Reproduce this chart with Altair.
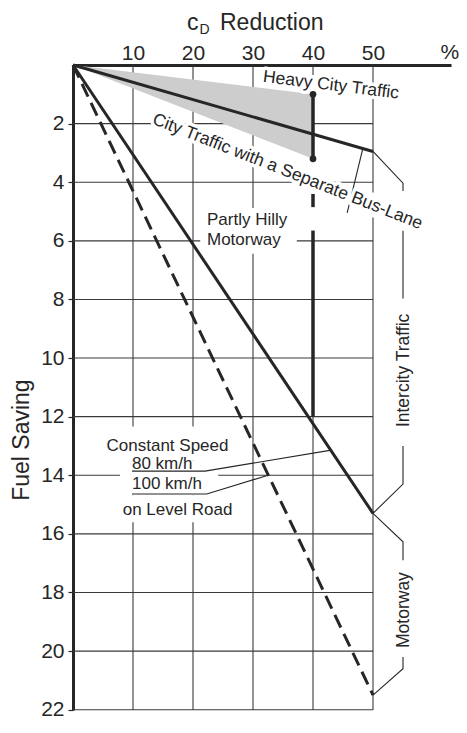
import altair as alt
import pandas as pd

FONT = "Liberation Sans"
INK = "#262626"
GRID = "#3a3a3a"
SHADE = "#cdcdcd"

# ---------------- data ----------------
CD_TICKS = [10, 20, 30, 40, 50]
FUEL_TICKS = [2, 4, 6, 8, 10, 12, 14, 16, 18, 20, 22]
CD_MAX = 63
FUEL_MAX = 22.01

# vertical grid segments (x = 40 is mostly replaced by the thick marker)
VGRID_CD = [10, 20, 30, 40, 40, 50, 50]
VGRID_FROM = [0, 0, 0, 0, 12.0, 0, 5.2]
VGRID_TO = [FUEL_MAX, FUEL_MAX, FUEL_MAX, 0.35, FUEL_MAX, 4.35, FUEL_MAX]
HGRID_END = 50

# curves
BUS_LANE_CD = [0, 50]
BUS_LANE_FUEL = [0, 2.95]
INTERCITY_CD = [0, 50]
INTERCITY_FUEL = [0, 15.3]
LEVEL_ROAD_CD = [0, 50]
LEVEL_ROAD_FUEL = [0, 21.5]

# heavy city traffic band
HEAVY_CD = [0, 40]
HEAVY_LOW = [0, 1.0]
HEAVY_HIGH = [0, 3.2]
DOT_CD = [40, 40]
DOT_FUEL = [1.0, 3.2]

# thick marker at 40 %
MARK40_CD = [40, 40, 40]
MARK40_FROM = [1.0, 4.4, 5.65]
MARK40_TO = [3.2, 4.85, 12.0]

# thin leader / bracket lines
LEAD_BUS_CD = [48.3, 45.7]
LEAD_BUS_FUEL = [2.85, 5.05]
LEAD_80_CD = [9.83, 22.0, 42.8]
LEAD_80_FUEL = [13.86, 13.86, 13.15]
LEAD_100_CD = [9.83, 22.3, 32.5]
LEAD_100_FUEL = [14.64, 14.64, 14.0]
BR_IC_TOP_CD = [50, 55, 55]
BR_IC_TOP_FUEL = [2.95, 4.03, 4.3]
BR_IC_MID_CD = [55, 55]
BR_IC_MID_FUEL = [5.66, 7.97]
BR_IC_LOW_CD = [55, 55, 50]
BR_IC_LOW_FUEL = [13.0, 14.3, 15.3]
BR_MW_TOP_CD = [50, 55, 55]
BR_MW_TOP_FUEL = [15.3, 16.27, 16.9]
BR_MW_LOW_CD = [55, 55, 50]
BR_MW_LOW_FUEL = [20.2, 20.6, 21.5]

# white boxes behind horizontal labels
KO_CD0 = [21.2, 4.5, 7.83, 7.83]
KO_CD1 = [37.3, 27.2, 24.2, 27.2]
KO_F0 = [4.88, 12.34, 13.5, 14.7]
KO_F1 = [6.44, 13.5, 14.7, 15.6]

# labels
SLANT_TEXT = ["Heavy City Traffic", "City Traffic with a Separate Bus-Lane"]
SLANT_CD = [43.0, 35.75]
SLANT_FUEL = [0.69, 3.64]
SLANT_ANGLE = [7, 21.5]

LEFT_TEXT = ["Partly Hilly", "Motorway", "80 km/h", "100 km/h"]
LEFT_CD = [22.33, 22.33, 9.83, 9.83]
LEFT_FUEL = [5.29, 5.97, 13.6, 14.3]

CENTER_TEXT = ["Constant Speed", "on Level Road"]
CENTER_CD = [15.75, 17.42]
CENTER_FUEL = [12.99, 15.19]

VERT_TEXT = ["Intercity Traffic", "Motorway"]
VERT_CD = [55.2, 55.2]
VERT_FUEL = [10.42, 18.6]

TITLE_MAIN = ["c", "Reduction"]
TITLE_MAIN_CD = [19.0, 24.5]
TITLE_MAIN_FUEL = [-1.2, -1.2]
TITLE_SUB = ["D"]
TITLE_SUB_CD = [21.1]
TITLE_SUB_FUEL = [-1.06]
PERCENT_TEXT = ["%"]
PERCENT_CD = [62.8]
PERCENT_FUEL = [-0.2]
YTITLE_TEXT = ["Fuel Saving"]
YTITLE_CD = [-8.5]
YTITLE_FUEL = [12.8]

# ---------------- chart ----------------
XS = alt.Scale(domain=[0, CD_MAX], nice=False, zero=False)
YS = alt.Scale(domain=[0, FUEL_MAX], nice=False, zero=False, reverse=True)

X_AXIS = alt.Axis(orient="top", values=CD_TICKS, title=None, ticks=False,
                  labelPadding=2, labelFontSize=21, labelFont=FONT,
                  labelFontWeight="normal",
                  labelColor=INK, domainColor=INK, domainWidth=3, grid=False,
                  labelFlush=False, labelOverlap=False, format="d")
Y_AXIS = alt.Axis(orient="left", values=FUEL_TICKS, title=None, tickSize=5,
                  tickColor=INK, tickWidth=1.2, labelPadding=4,
                  labelFontSize=21, labelFont=FONT, labelFontWeight="normal",
                  labelColor=INK,
                  domainColor=INK, domainWidth=3, grid=False,
                  labelFlush=False, labelOverlap=False, format="d")


def X(f):
    return alt.X(f, type="quantitative", scale=XS, axis=X_AXIS)


def Y(f):
    return alt.Y(f, type="quantitative", scale=YS, axis=Y_AXIS)


vgrid = pd.DataFrame({"cd": VGRID_CD, "f0": VGRID_FROM, "f1": VGRID_TO})
vgrid_layer = alt.Chart(vgrid).mark_rule(color=GRID, strokeWidth=1.1).encode(
    x=X("cd"), y=Y("f0"), y2="f1:Q")

hgrid = pd.DataFrame({"f": FUEL_TICKS, "c0": [0] * len(FUEL_TICKS),
                      "c1": [HGRID_END] * len(FUEL_TICKS)})
hgrid_layer = alt.Chart(hgrid).mark_rule(color=GRID, strokeWidth=1.1).encode(
    x=X("c0"), x2="c1", y=Y("f"))

ko = pd.DataFrame({"c0": KO_CD0, "c1": KO_CD1, "f0": KO_F0, "f1": KO_F1})
ko_layer = alt.Chart(ko).mark_rect(color="white").encode(
    x=X("c0"), x2="c1", y=Y("f0"), y2="f1")

heavy = pd.DataFrame({"cd": HEAVY_CD, "lo": HEAVY_LOW, "hi": HEAVY_HIGH})
shade_layer = alt.Chart(heavy).mark_area(color=SHADE, opacity=1).encode(
    x=X("cd"), y=Y("lo"), y2="hi")

solid = pd.DataFrame({
    "series": ["bus"] * 2 + ["intercity"] * 2,
    "cd": BUS_LANE_CD + INTERCITY_CD,
    "fuel": BUS_LANE_FUEL + INTERCITY_FUEL,
    "ord": [0, 1, 0, 1],
})
solid_layer = alt.Chart(solid).mark_line(color=INK, strokeWidth=3).encode(
    x=X("cd"), y=Y("fuel"), detail="series:N", order="ord:Q")

dashed = pd.DataFrame({"cd": LEVEL_ROAD_CD, "fuel": LEVEL_ROAD_FUEL})
dashed_layer = alt.Chart(dashed).mark_line(
    color=INK, strokeWidth=3, strokeDash=[14, 7]).encode(
    x=X("cd"), y=Y("fuel"))

m40 = pd.DataFrame({"cd": MARK40_CD, "f0": MARK40_FROM, "f1": MARK40_TO})
m40_layer = alt.Chart(m40).mark_rule(color=INK, strokeWidth=3.5).encode(
    x=X("cd"), y=Y("f0"), y2="f1")

dots = pd.DataFrame({"cd": DOT_CD, "fuel": DOT_FUEL})
dot_layer = alt.Chart(dots).mark_circle(color=INK, size=45, opacity=1).encode(
    x=X("cd"), y=Y("fuel"))

guide_parts = [
    ("bus", LEAD_BUS_CD, LEAD_BUS_FUEL),
    ("80", LEAD_80_CD, LEAD_80_FUEL),
    ("100", LEAD_100_CD, LEAD_100_FUEL),
    ("ic_top", BR_IC_TOP_CD, BR_IC_TOP_FUEL),
    ("ic_mid", BR_IC_MID_CD, BR_IC_MID_FUEL),
    ("ic_low", BR_IC_LOW_CD, BR_IC_LOW_FUEL),
    ("mw_top", BR_MW_TOP_CD, BR_MW_TOP_FUEL),
    ("mw_low", BR_MW_LOW_CD, BR_MW_LOW_FUEL),
]
rows = []
for gid, cds, fs in guide_parts:
    for i, (c, f) in enumerate(zip(cds, fs)):
        rows.append({"gid": gid, "cd": c, "fuel": f, "ord": i})
guides = pd.DataFrame(rows)
guide_layer = alt.Chart(guides).mark_line(color=INK, strokeWidth=1.1).encode(
    x=X("cd"), y=Y("fuel"), detail="gid:N", order="ord:Q")

slant = pd.DataFrame({"t": SLANT_TEXT, "cd": SLANT_CD, "fuel": SLANT_FUEL,
                      "a": SLANT_ANGLE})
halo_layer = alt.Chart(slant).mark_text(
    font=FONT, fontSize=17.5, align="center", baseline="middle",
    fill="white", stroke="white", strokeWidth=7, strokeJoin="round").encode(
    x=X("cd"), y=Y("fuel"), text="t:N", angle=alt.Angle("a:Q", scale=None))
slant_layer = alt.Chart(slant).mark_text(
    font=FONT, fontSize=17.5, align="center", baseline="middle",
    color=INK).encode(
    x=X("cd"), y=Y("fuel"), text="t:N", angle=alt.Angle("a:Q", scale=None))

left = pd.DataFrame({"t": LEFT_TEXT, "cd": LEFT_CD, "fuel": LEFT_FUEL})
left_layer = alt.Chart(left).mark_text(
    font=FONT, fontSize=17, align="left", baseline="middle",
    color=INK).encode(x=X("cd"), y=Y("fuel"), text="t:N")

center = pd.DataFrame({"t": CENTER_TEXT, "cd": CENTER_CD, "fuel": CENTER_FUEL})
center_layer = alt.Chart(center).mark_text(
    font=FONT, fontSize=17, align="center", baseline="middle",
    color=INK).encode(x=X("cd"), y=Y("fuel"), text="t:N")

vert = pd.DataFrame({"t": VERT_TEXT, "cd": VERT_CD, "fuel": VERT_FUEL})
vert_layer = alt.Chart(vert).mark_text(
    font=FONT, fontSize=17.5, align="center", baseline="middle", angle=270,
    color=INK).encode(x=X("cd"), y=Y("fuel"), text="t:N")

tmain = pd.DataFrame({"t": TITLE_MAIN, "cd": TITLE_MAIN_CD,
                      "fuel": TITLE_MAIN_FUEL})
tmain_layer = alt.Chart(tmain).mark_text(
    font=FONT, fontSize=23, align="left", baseline="alphabetic",
    color=INK).encode(x=X("cd"), y=Y("fuel"), text="t:N")

tsub = pd.DataFrame({"t": TITLE_SUB, "cd": TITLE_SUB_CD, "fuel": TITLE_SUB_FUEL})
tsub_layer = alt.Chart(tsub).mark_text(
    font=FONT, fontSize=14, align="left", baseline="alphabetic",
    color=INK).encode(x=X("cd"), y=Y("fuel"), text="t:N")

pct = pd.DataFrame({"t": PERCENT_TEXT, "cd": PERCENT_CD, "fuel": PERCENT_FUEL})
pct_layer = alt.Chart(pct).mark_text(
    font=FONT, fontSize=21, align="center", baseline="alphabetic",
    color=INK).encode(x=X("cd"), y=Y("fuel"), text="t:N")

ytitle = pd.DataFrame({"t": YTITLE_TEXT, "cd": YTITLE_CD, "fuel": YTITLE_FUEL})
ytitle_layer = alt.Chart(ytitle).mark_text(
    font=FONT, fontSize=23, align="center", baseline="middle", angle=270,
    color=INK).encode(x=X("cd"), y=Y("fuel"), text="t:N")

chart = alt.layer(
    vgrid_layer, hgrid_layer, ko_layer, shade_layer, solid_layer,
    dashed_layer, m40_layer, dot_layer, guide_layer, halo_layer,
    slant_layer, left_layer, center_layer, vert_layer, tmain_layer,
    tsub_layer, pct_layer, ytitle_layer,
).properties(
    width=378, height=645,
    autosize="none",
    padding={"left": 65, "top": 57, "right": 8, "bottom": 11},
    background="white",
).configure_view(stroke=None)

chart.save("out.html", embed_options={"renderer": "svg", "actions": False})
